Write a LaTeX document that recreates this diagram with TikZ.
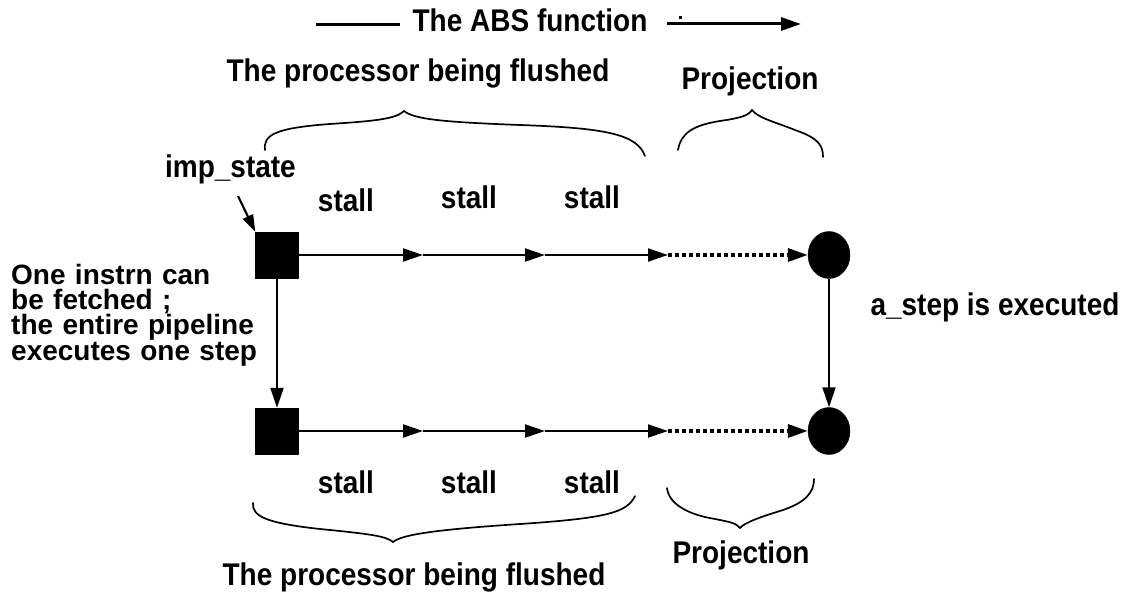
\documentclass[tikz,border=0pt]{standalone}
\usepackage{fontspec}
\setmainfont{Liberation Sans}
\usetikzlibrary{arrows.meta,shapes.geometric}
% labels are set slightly condensed: same width, taller letters
\newcommand\tallt[1]{\scalebox{1}[1.12]{#1}}
\begin{document}
\begin{tikzpicture}[x=1pt,y=-1pt,
  lbl/.style={font=\fontsize{28}{25.5}\selectfont\bfseries, inner sep=0pt, anchor=base},
  state/.style={fill=black, draw=black, minimum width=43pt, minimum height=46pt, inner sep=0pt},
  absstate/.style={ellipse, fill=black, draw=black, minimum width=42pt, minimum height=47pt, inner sep=0pt},
  flow/.style={line width=2.1pt, -{Triangle[length=20pt,width=13pt]}},
  proj/.style={line width=3.6pt, dash pattern=on 3.5pt off 3.5pt, -{Triangle[length=20pt,width=13pt]}},
  brace/.style={line width=1.7pt, line cap=round}]
\useasboundingbox (0,0) rectangle (1131,593);

% heading: the abstraction function
\node[lbl] (abs) at (530,32) {\tallt{The ABS function}};
\coordinate (absL1) at (316,25);
\coordinate (absL2) at (400,25);
\coordinate (absR1) at (667,24);
\coordinate (absR2) at (801,24);
\draw[line width=3pt] (absL1) -- (absL2);
\draw[line width=3pt, -{Triangle[length=20pt,width=13pt]}] (absR1) -- (absR2);
\fill (679,16) rectangle (682,19);

% group captions
\node[lbl] (flushT) at (418,82) {\tallt{The processor being flushed}};
\node[lbl] (projT) at (750,90) {\tallt{Projection}};
\node[lbl] (flushB) at (414,585) {\tallt{The processor being flushed}};
\node[lbl] (projB) at (741,563) {\tallt{Projection}};

% braces
\draw[brace] (265,150) .. controls (263,135) and (275,128) .. (330,124)
  .. controls (375,121) and (396,119) .. (404,111)
  .. controls (414,119) and (440,122) .. (520,125)
  .. controls (605,128) and (637,134) .. (645,156);
\draw[brace] (678,150) .. controls (681,132) and (695,125) .. (720,121)
  .. controls (740,118) and (748,116) .. (752,110)
  .. controls (758,118) and (775,122) .. (795,130)
  .. controls (818,138) and (823,145) .. (823,157);
\draw[brace] (253,503) .. controls (252,516) and (265,523) .. (320,529)
  .. controls (370,534) and (386,536) .. (393,542)
  .. controls (402,535) and (430,530) .. (520,524)
  .. controls (610,518) and (627,512) .. (635,496);
\draw[brace] (667,488) .. controls (669,505) and (690,515) .. (715,519)
  .. controls (730,522) and (736,523) .. (740,528)
  .. controls (744,523) and (760,517) .. (780,511)
  .. controls (805,503) and (814,493) .. (814,479);

% implementation and specification states
\node[state] (i1) at (277,255) {};
\node[state] (i2) at (277,431) {};
\node[absstate] (a1) at (829,255) {};
\node[absstate] (a2) at (829,431) {};

% pipeline steps
\coordinate (t1) at (423,255);
\coordinate (t2) at (545,255);
\coordinate (t3) at (668,255);
\coordinate (b1) at (423,431);
\coordinate (b2) at (545,431);
\coordinate (b3) at (668,431);
\draw[flow] (i1) -- (t1);
\draw[flow] (t1) -- (t2);
\draw[flow] (t2) -- (t3);
\draw[proj] (t3) -- (a1);
\draw[flow] (i2) -- (b1);
\draw[flow] (b1) -- (b2);
\draw[flow] (b2) -- (b3);
\draw[proj] (b3) -- (a2);
\draw[flow] (i1) -- (i2);
\draw[flow] (a1) -- (a2);

% stall labels
\node[lbl] (s1) at (346,212) {\tallt{stall}};
\node[lbl] (s2) at (469,209) {\tallt{stall}};
\node[lbl] (s3) at (592,209) {\tallt{stall}};
\node[lbl] (s4) at (346,493) {\tallt{stall}};
\node[lbl] (s5) at (469,493) {\tallt{stall}};
\node[lbl] (s6) at (592,493) {\tallt{stall}};

% state pointer
\node[lbl, anchor=base east] (imp) at (296,178) {\tallt{imp\_state}};
\coordinate (impA) at (238,196);
\draw[line width=2.1pt, -{Triangle[length=17pt,width=11pt]}] (impA) -- (i1.north west);

% side remarks
\node[lbl, anchor=base west, align=left, text width=250pt] (fetch) at (11,284)
  {One instrn can\\be fetched ;\\the entire pipeline\\executes one step};
\node[lbl] (exec) at (995,315) {\tallt{a\_step is executed}};
\end{tikzpicture}
\end{document}
